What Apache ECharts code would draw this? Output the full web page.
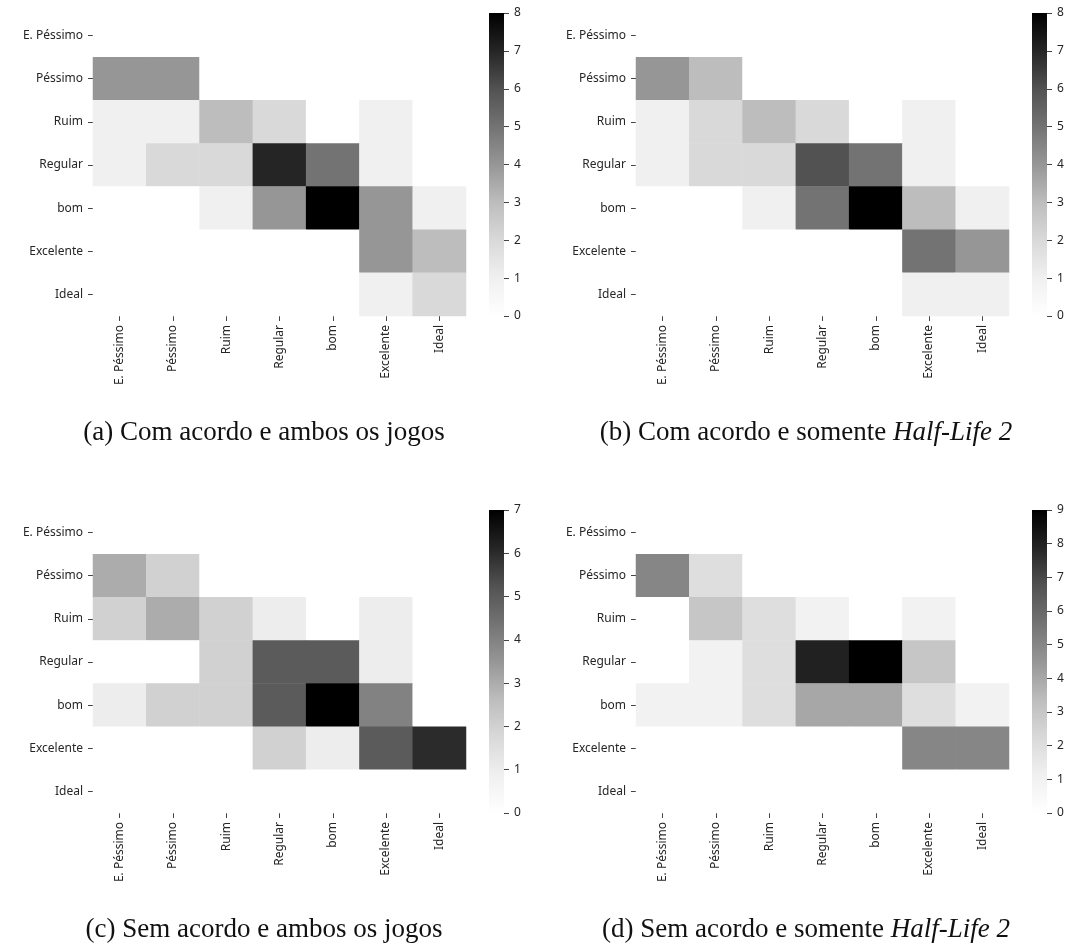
<!DOCTYPE html>
<html>
<head>
<meta charset="utf-8">
<script src="https://cdn.jsdelivr.net/npm/echarts@6/dist/echarts.min.js"></script>
<style>
  html, body { margin: 0; padding: 0; background: #ffffff; }
  #chart { width: 1067px; height: 949px; }
</style>
</head>
<body>
<div id="chart"></div>
<script>
// Rating categories (rows: true label, columns: assigned label)
const categories = ['E. Péssimo', 'Péssimo', 'Ruim', 'Regular', 'bom', 'Excelente', 'Ideal'];

// Count matrices, one row per y category, one column per x category
const countsA = [
  [0, 0, 0, 0, 0, 0, 0],
  [4, 4, 0, 0, 0, 0, 0],
  [1, 1, 3, 2, 0, 1, 0],
  [1, 2, 2, 7, 5, 1, 0],
  [0, 0, 1, 4, 8, 4, 1],
  [0, 0, 0, 0, 0, 4, 3],
  [0, 0, 0, 0, 0, 1, 2]
];
const countsB = [
  [0, 0, 0, 0, 0, 0, 0],
  [4, 3, 0, 0, 0, 0, 0],
  [1, 2, 3, 2, 0, 1, 0],
  [1, 2, 2, 6, 5, 1, 0],
  [0, 0, 1, 5, 8, 3, 1],
  [0, 0, 0, 0, 0, 5, 4],
  [0, 0, 0, 0, 0, 1, 1]
];
const countsC = [
  [0, 0, 0, 0, 0, 0, 0],
  [3, 2, 0, 0, 0, 0, 0],
  [2, 3, 2, 1, 0, 1, 0],
  [0, 0, 2, 5, 5, 1, 0],
  [1, 2, 2, 5, 7, 4, 0],
  [0, 0, 0, 2, 1, 5, 6],
  [0, 0, 0, 0, 0, 0, 0]
];
const countsD = [
  [0, 0, 0, 0, 0, 0, 0],
  [5, 2, 0, 0, 0, 0, 0],
  [0, 3, 2, 1, 0, 1, 0],
  [0, 1, 2, 8, 9, 3, 0],
  [1, 1, 2, 4, 4, 2, 1],
  [0, 0, 0, 0, 0, 5, 5],
  [0, 0, 0, 0, 0, 0, 0]
];

// Colour-bar upper limits
const scaleMax = [8, 8, 7, 9];

// Captions
const captions = [
  '(a) Com acordo e ambos os jogos',
  '(b) Com acordo e somente {i|Half-Life 2}',
  '(c) Sem acordo e ambos os jogos',
  '(d) Sem acordo e somente {i|Half-Life 2}'
];

const matrices = [countsA, countsB, countsC, countsD];

// Sequential grey palette (white -> black)
const greys = ['#ffffff', '#f0f0f0', '#d9d9d9', '#bdbdbd', '#969696', '#737373', '#525252', '#252525', '#000000'];

const textColor = '#262626';
const tickColor = '#444444';
const tickFont = 'Noto Sans';
const tickSize = 12;

// Panel placement
const panels = [
  { left: 93, top: 14, width: 373, height: 302, cbLeft: 489, capX: 264, capY: 433 },
  { left: 636, top: 14, width: 373, height: 302, cbLeft: 1032, capX: 806, capY: 433 },
  { left: 93, top: 511, width: 373, height: 302, cbLeft: 489, capX: 264, capY: 930 },
  { left: 636, top: 511, width: 373, height: 302, cbLeft: 1032, capX: 806, capY: 930 }
];

const grid = [], xAxis = [], yAxis = [], series = [], visualMap = [], graphic = [];

panels.forEach((p, k) => {
  // heatmap grid
  grid.push({ left: p.left, top: p.top, width: p.width, height: p.height, containLabel: false });
  // colour-bar grid
  grid.push({ left: p.cbLeft, top: p.top - 1, width: 15, height: p.height + 1, containLabel: false });

  const gh = 2 * k, gc = 2 * k + 1;

  xAxis.push({
    type: 'category', gridIndex: gh, data: categories, position: 'bottom',
    axisLine: { show: false },
    axisTick: { show: true, alignWithLabel: true, length: 5, lineStyle: { color: tickColor, width: 1 } },
    axisLabel: { rotate: 90, margin: 9, color: textColor, fontFamily: tickFont, fontSize: tickSize, interval: 0 },
    splitLine: { show: false }
  });
  yAxis.push({
    type: 'category', gridIndex: gh, data: categories, inverse: true,
    axisLine: { show: false },
    axisTick: { show: true, alignWithLabel: true, length: 5, lineStyle: { color: tickColor, width: 1 } },
    axisLabel: { margin: 10, color: textColor, fontFamily: tickFont, fontSize: tickSize, interval: 0 },
    splitLine: { show: false }
  });

  xAxis.push({
    type: 'category', gridIndex: gc, data: [''],
    axisLine: { show: false }, axisTick: { show: false }, axisLabel: { show: false }
  });
  yAxis.push({
    type: 'value', gridIndex: gc, position: 'right', min: 0, max: scaleMax[k], interval: 1,
    axisLine: { show: false },
    axisTick: { show: true, length: 5, lineStyle: { color: tickColor, width: 1 } },
    axisLabel: { margin: 10, color: textColor, fontFamily: tickFont, fontSize: tickSize },
    splitLine: { show: false }
  });

  const cells = [];
  matrices[k].forEach((row, yi) => {
    row.forEach((v, xi) => cells.push([xi, yi, v]));
  });

  series.push({
    type: 'heatmap', xAxisIndex: gh, yAxisIndex: gh, data: cells,
    itemStyle: { borderWidth: 0 },
    emphasis: { disabled: true },
    silent: true
  });

  visualMap.push({
    type: 'continuous', show: false, seriesIndex: series.length - 1,
    min: 0, max: scaleMax[k], dimension: 2,
    inRange: { color: greys }
  });

  // colour bar: one full-height bar filled with the palette gradient
  const stops = greys.slice().reverse().map((c, i) => ({ offset: i / (greys.length - 1), color: c }));
  series.push({
    type: 'bar', xAxisIndex: gc, yAxisIndex: gc, data: [scaleMax[k]],
    barWidth: '100%', silent: true,
    itemStyle: { color: new echarts.graphic.LinearGradient(0, 0, 0, 1, stops) }
  });

  graphic.push({
    type: 'text', x: p.capX, y: p.capY,
    style: {
      text: captions[k],
      fontFamily: 'Liberation Serif',
      fontSize: 27,
      fill: '#111111',
      textAlign: 'center',
      textVerticalAlign: 'middle',
      rich: {
        i: { fontFamily: 'Liberation Serif', fontSize: 27, fontStyle: 'italic', fill: '#111111' }
      }
    }
  });
});

const chart = echarts.init(document.getElementById('chart'), null, { renderer: 'canvas' });
chart.setOption({
  animation: false,
  backgroundColor: '#ffffff',
  grid, xAxis, yAxis, series, visualMap, graphic
});
</script>
</body>
</html>
